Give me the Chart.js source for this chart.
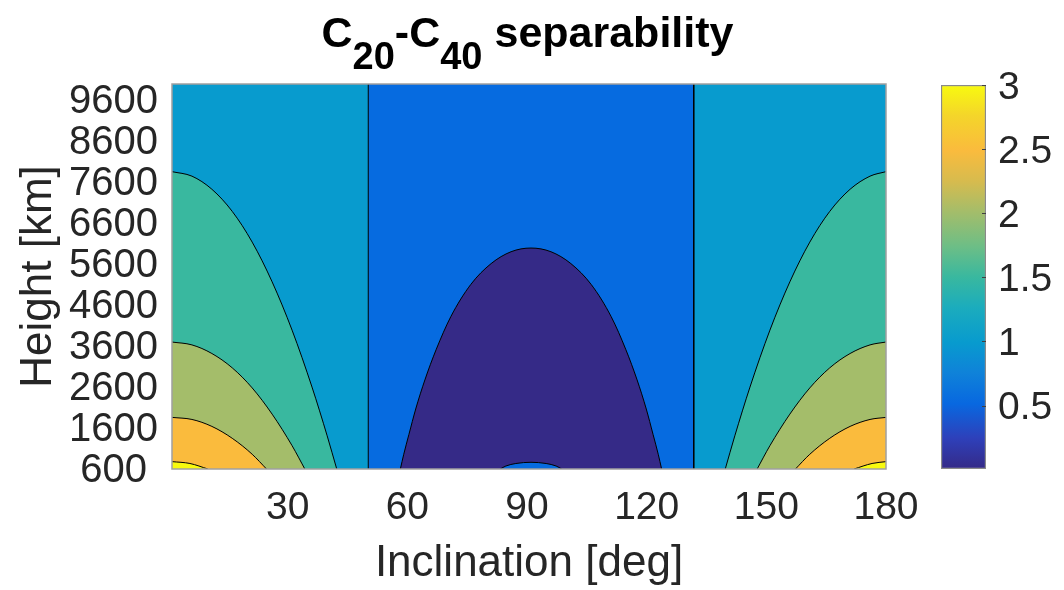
<!DOCTYPE html>
<html>
<head>
<meta charset="utf-8">
<script src="https://cdn.jsdelivr.net/npm/chart.js@4.4.1/dist/chart.umd.min.js"></script>
<style>
  html, body { margin: 0; padding: 0; background: #fff; }
  #wrap { position: relative; width: 1064px; height: 590px; overflow: hidden; }
  #main { position: absolute; left: 0; top: 0; }
  #cbar { position: absolute; left: 930px; top: 0; }
  #title { position: absolute; left: 0; top: 11px; width: 1055px; text-align: center;
           font: bold 43px 'Liberation Sans', Arial, sans-serif; line-height: 1; color: #000; white-space: nowrap; }
  #title .sub { position: relative; top: 22px; font-size: 38px; }
</style>
</head>
<body>
<div id="wrap">
  <canvas id="main" width="1064" height="590"></canvas>
  <canvas id="cbar" width="134" height="590"></canvas>
  <div id="title">C<span class="sub">20</span>-C<span class="sub">40</span> separability</div>
</div>
<script>
const FONT = "'Liberation Sans', Arial, sans-serif";
const INK = '#262626';

// axes
const incRange = [1, 180];
const hgtRange = [600, 10000];
const incTicks = [30, 60, 90, 120, 150, 180];
const hgtTicks = [600, 1600, 2600, 3600, 4600, 5600, 6600, 7600, 8600, 9600];
const cbarRange = [0.005, 3];
const cbarTicks = [0.5, 1, 1.5, 2, 2.5, 3];

// contour lines: inclination [deg] vs height [km]
// level 1.0 (vertical lines)
const c10Inc = [50.2, 131.8];
// level 0.5 (dome in the middle)
const c05Inc = [58.25, 59.1, 60.4, 62.1, 64.4, 67.2, 70.9, 75.9, 81.0, 86.0, 91.0,
                96.0, 101.0, 106.1, 111.1, 114.8, 117.6, 119.9, 121.6, 122.9, 123.75];
const c05Hgt = [600, 960, 1445, 2065, 2775, 3510, 4320, 5105, 5615, 5905, 5995,
                5905, 5615, 5105, 4320, 3510, 2775, 2065, 1445, 960, 600];
// small bump at the bottom of the dome
const bumpInc = [83.3, 84.7, 87.2, 91.0, 94.8, 97.3, 98.7];
const bumpHgt = [600, 673, 734, 764, 734, 673, 600];
// level 1.5
const c15IncL = [1, 6.0, 11.0, 16.1, 21.1, 26.1, 31.1, 36.1, 39.9, 42.3];
const c15HgtL = [7860, 7750, 7430, 6890, 6140, 5170, 3990, 2600, 1410, 600];
const c15IncR = [139.7, 142.1, 145.9, 150.9, 155.9, 160.9, 165.9, 171.0, 176.0, 180];
const c15HgtR = [600, 1410, 2600, 3990, 5170, 6140, 6890, 7430, 7750, 7860];
// level 2.0
const c20IncL = [1, 6.0, 11.0, 16.1, 21.1, 26.1, 31.1, 34.3];
const c20HgtL = [3700, 3630, 3420, 3070, 2580, 1940, 1170, 600];
const c20IncR = [147.7, 150.9, 155.9, 160.9, 165.9, 171.0, 176.0, 180];
const c20HgtR = [600, 1170, 1940, 2580, 3070, 3420, 3630, 3700];
// level 2.5
const c25IncL = [1, 6.0, 11.0, 16.1, 21.1, 24.7];
const c25HgtL = [1860, 1810, 1640, 1350, 960, 600];
const c25IncR = [157.3, 160.9, 165.9, 171.0, 176.0, 180];
const c25HgtR = [600, 960, 1350, 1640, 1810, 1860];
// level 3.0
const c30IncL = [1, 5.5, 10.0];
const c30HgtL = [780, 735, 600];
const c30IncR = [172.0, 176.5, 180];
const c30HgtR = [600, 735, 780];

// band colours (parula-like)
const bandColors = {
  lv0: '#352A87', lv05: '#066BE0', lv10: '#089BCE', lv15: '#39B89F',
  lv20: '#A4BD6A', lv25: '#FABB3D', lv30: '#F8FA0F'
};
const cbarStops = [
  [0.00, '#352A87'], [0.08, '#2E40BA'], [0.17, '#0868E0'], [0.25, '#0F82D9'],
  [0.33, '#089BCE'], [0.42, '#1BACBD'], [0.50, '#39B89F'], [0.58, '#6DBE86'],
  [0.67, '#A4BD6A'], [0.75, '#D7BB4E'], [0.83, '#FABB3D'], [0.92, '#F4D52A'], [1.00, '#F8FA0F']
];

function pts(xs, ys) {
  return xs.map((x, i) => ({ x: x, y: ys[i] }));
}

function region(xs, ys, color, withLine) {
  return {
    data: pts(xs, ys),
    showLine: true,
    fill: 'start',
    backgroundColor: color,
    borderColor: withLine ? '#000' : 'rgba(0,0,0,0)',
    borderWidth: withLine ? 1 : 0,
    pointRadius: 0,
    cubicInterpolationMode: 'monotone'
  };
}

const layers = [
  region(incRange, [hgtRange[1], hgtRange[1]], bandColors.lv10, false),
  Object.assign(region([c10Inc[0], c10Inc[0], c10Inc[1], c10Inc[1]],
                       [hgtRange[0], hgtRange[1], hgtRange[1], hgtRange[0]], bandColors.lv05, true), {
    cubicInterpolationMode: 'default',
    tension: 0,
    segment: { borderColor: ctx => ctx.p0.parsed.y === ctx.p1.parsed.y ? 'rgba(0,0,0,0)' : '#000' }
  }),
  region(c05Inc, c05Hgt, bandColors.lv0, true),
  region(bumpInc, bumpHgt, bandColors.lv05, true),
  region(c15IncL, c15HgtL, bandColors.lv15, true),
  region(c15IncR, c15HgtR, bandColors.lv15, true),
  region(c20IncL, c20HgtL, bandColors.lv20, true),
  region(c20IncR, c20HgtR, bandColors.lv20, true),
  region(c25IncL, c25HgtL, bandColors.lv25, true),
  region(c25IncR, c25HgtR, bandColors.lv25, true),
  region(c30IncL, c30HgtL, bandColors.lv30, true),
  region(c30IncR, c30HgtR, bandColors.lv30, true)
];
// later layers on top
layers.forEach((d, i) => { d.order = -i; });

const axesBox = {
  id: 'axesBox',
  afterDatasetsDraw(chart) {
    const { ctx, chartArea: a } = chart;
    ctx.save();
    ctx.strokeStyle = '#a0a0a0';
    ctx.lineWidth = 1.5;
    ctx.strokeRect(a.left, a.top, a.right - a.left, a.bottom - a.top);
    ctx.restore();
  }
};

new Chart(document.getElementById('main'), {
  type: 'scatter',
  data: { datasets: layers },
  options: {
    responsive: false,
    animation: false,
    layout: { padding: { top: 84, right: 178, bottom: 0, left: 0 } },
    plugins: { legend: { display: false }, tooltip: { enabled: false } },
    scales: {
      x: {
        type: 'linear',
        min: incRange[0],
        max: incRange[1],
        afterBuildTicks: s => { s.ticks = incTicks.map(v => ({ value: v })); },
        afterFit: s => { s.height = 121; },
        grid: { display: false, drawTicks: false },
        border: { display: false },
        ticks: { color: INK, font: { family: FONT, size: 39 }, padding: 16, maxRotation: 0,
                 autoSkip: false, callback: v => String(v) },
        title: { display: true, text: 'Inclination [deg]', color: INK,
                 font: { family: FONT, size: 44 }, padding: { top: 0, bottom: 0 } }
      },
      y: {
        type: 'linear',
        min: hgtRange[0],
        max: hgtRange[1],
        afterBuildTicks: s => { s.ticks = hgtTicks.map(v => ({ value: v })); },
        afterFit: s => { s.width = 172; },
        grid: { display: false, drawTicks: false },
        border: { display: false },
        ticks: { color: INK, font: { family: FONT, size: 40 }, padding: 14, crossAlign: 'center',
                 labelOffset: 2, autoSkip: false, callback: v => String(v) },
        title: { display: true, text: 'Height [km]', color: INK,
                 font: { family: FONT, size: 44 }, padding: { top: 12, bottom: 0 } }
      }
    }
  },
  plugins: [axesBox]
});

// colour bar
const cbarTickMarks = {
  id: 'cbarTickMarks',
  afterDatasetsDraw(chart) {
    const { ctx, chartArea: a, scales: { y } } = chart;
    ctx.save();
    ctx.strokeStyle = '#404040';
    ctx.lineWidth = 1;
    y.ticks.forEach(t => {
      const py = Math.round(y.getPixelForValue(t.value)) + 0.5;
      ctx.beginPath();
      ctx.moveTo(a.right - 4, py);
      ctx.lineTo(a.right, py);
      ctx.stroke();
    });
    ctx.restore();
  }
};

new Chart(document.getElementById('cbar'), {
  type: 'bar',
  data: {
    labels: [''],
    datasets: [{
      data: [cbarRange],
      backgroundColor: ctx => {
        const a = ctx.chart.chartArea;
        if (!a) return bandColors.lv10;
        const g = ctx.chart.ctx.createLinearGradient(0, a.bottom, 0, a.top);
        cbarStops.forEach(s => g.addColorStop(s[0], s[1]));
        return g;
      },
      borderColor: '#8a8a8a',
      borderWidth: 1.5,
      borderSkipped: false,
      barPercentage: 1,
      categoryPercentage: 1
    }]
  },
  options: {
    responsive: false,
    animation: false,
    layout: { padding: { top: 85, right: 0, bottom: 121, left: 11 } },
    plugins: { legend: { display: false }, tooltip: { enabled: false } },
    scales: {
      x: { display: false },
      y: {
        position: 'right',
        min: cbarRange[0],
        max: cbarRange[1],
        afterBuildTicks: s => { s.ticks = cbarTicks.map(v => ({ value: v })); },
        afterFit: s => { s.width = 78; },
        grid: { display: false, drawTicks: false },
        border: { display: false },
        ticks: { color: INK, font: { family: FONT, size: 39 }, padding: 12, labelOffset: 3,
                 autoSkip: false, callback: v => String(v) }
      }
    }
  },
  plugins: [cbarTickMarks]
});
</script>
</body>
</html>
